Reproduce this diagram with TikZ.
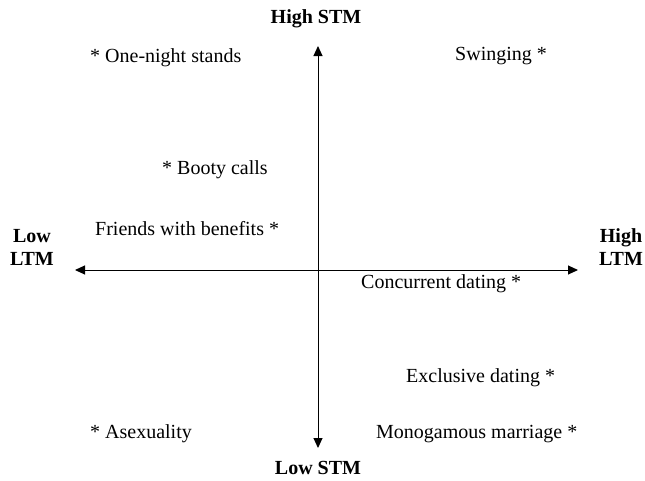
\documentclass[tikz,border=0pt]{standalone}
\usepackage{fontspec}
\setmainfont{Liberation Serif}
\usetikzlibrary{arrows.meta}
\begin{document}
\begin{tikzpicture}[x=1pt,y=-1pt,
  lbl/.style={font=\fontsize{20}{24}\selectfont, inner sep=0pt},
  axlbl/.style={font=\fontsize{20}{23}\selectfont\bfseries, inner sep=0pt, align=center},
  ax/.style={line width=1pt, -{Triangle[length=10pt,width=9pt]}}]
\useasboundingbox (0,0) rectangle (645,480);
\coordinate (c) at (318,270);
\coordinate (top) at (318,46);
\coordinate (bot) at (318,448);
\coordinate (lft) at (75,270);
\coordinate (rgt) at (578,270);
\draw[ax] (c) -- (top);
\draw[ax] (c) -- (bot);
\draw[ax] (c) -- (lft);
\draw[ax] (c) -- (rgt);
\node[axlbl] (hstm) at (316,19) {High STM};
\node[axlbl] (lstm) at (318,468) {Low STM};
\node[axlbl] (lltm) at (32,247) {Low\\LTM};
\node[axlbl] (hltm) at (621,247) {High\\LTM};
\node[lbl, anchor=west] (ons) at (90,58) {* One-night stands};
\node[lbl, anchor=west] (sw) at (455,56) {Swinging *};
\node[lbl, anchor=west] (bc) at (162,170) {* Booty calls};
\node[lbl, anchor=west] (fwb) at (95,229) {Friends with benefits *};
\node[lbl, anchor=west] (cd) at (361,284) {Concurrent dating *};
\node[lbl, anchor=west] (ed) at (406,378) {Exclusive dating *};
\node[lbl, anchor=west] (as) at (90,434) {* Asexuality};
\node[lbl, anchor=west] (mm) at (376,434) {Monogamous marriage *};
\end{tikzpicture}
\end{document}
